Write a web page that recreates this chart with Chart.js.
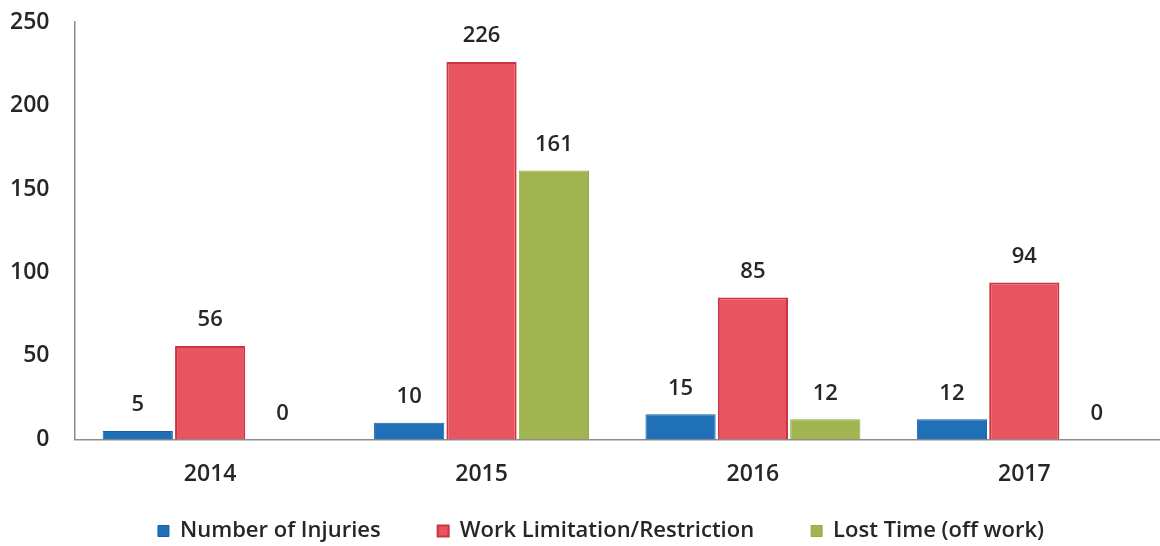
<!DOCTYPE html>
<html>
<head>
<meta charset="utf-8">
<script src="https://cdn.jsdelivr.net/npm/chart.js@4/dist/chart.umd.min.js"></script>
<style>
  html, body { margin: 0; padding: 0; background: #fff; }
  #wrap { width: 1160px; height: 546px; }
</style>
</head>
<body>
<div id="wrap"><canvas id="injuryChart"></canvas></div>
<script>
// ─── data ──────────────────────────
const years = ['2014', '2015', '2016', '2017'];
const injuries = [5, 10, 15, 12];
const restriction = [56, 226, 85, 94];
const lostTime = [0, 161, 12, 0];
const yTicks = [0, 50, 100, 150, 200, 250];

const FONT = 'Open Sans';
const INK = '#262626';

// value labels above each bar
const barValues = {
    id: 'barValues',
    afterDatasetsDraw(chart) {
        const ctx = chart.ctx;
        ctx.save();
        ctx.font = '600 22px ' + FONT;
        ctx.fillStyle = INK;
        ctx.textAlign = 'center';
        ctx.textBaseline = 'middle';
        chart.data.datasets.forEach((ds, i) => {
            chart.getDatasetMeta(i).data.forEach((bar, j) => {
                ctx.fillText(ds.data[j], bar.x, bar.y - 26);
            });
        });
        ctx.restore();
    }
};

// legend: wide gap between items but a tighter gap above them, nudged right
const legendLift = {
    id: 'legendLift',
    afterLayout(chart) {
        const lg = chart.legend;
        if (!lg) return;
        lg.top -= 38;
        lg.left += 16;
        lg.right += 16;
    }
};

const ctx = document.getElementById('injuryChart').getContext('2d');

new Chart(ctx, {
    type: 'bar',
    data: {
        labels: years,
        datasets: [
            {
                label: 'Number of Injuries',
                data: injuries,
                backgroundColor: '#2070b8',
                borderColor: '#1a60a3',
                borderWidth: 1
            },
            {
                label: 'Work Limitation/Restriction',
                data: restriction,
                backgroundColor: '#e8545f',
                borderColor: '#cc3343',
                borderWidth: 2
            },
            {
                label: 'Lost Time (off work)',
                data: lostTime,
                backgroundColor: '#a0b44f',
                borderColor: '#94a843',
                borderWidth: 1
            }
        ]
    },
    options: {
        responsive: true,
        maintainAspectRatio: false,
        animation: false,
        categoryPercentage: 0.8,
        barPercentage: 0.97,
        layout: { padding: { top: 22, right: 0, left: 10, bottom: -44 } },
        plugins: {
            legend: {
                position: 'bottom',
                labels: {
                    boxWidth: 11,
                    boxHeight: 11,
                    padding: 57,
                    font: { size: 22, family: FONT, weight: '600' },
                    color: INK
                }
            },
            tooltip: { enabled: false }
        },
        scales: {
            y: {
                min: 0,
                max: 250,
                afterBuildTicks: axis => { axis.ticks = yTicks.map(v => ({ value: v })); },
                ticks: {
                    padding: 0,
                    font: { size: 23, family: FONT, weight: '600' },
                    color: INK
                },
                grid: { display: false, tickLength: 25 },
                border: { display: true, color: '#8c8c8c', width: 1.5 }
            },
            x: {
                ticks: {
                    padding: 13,
                    font: { size: 23, family: FONT, weight: '600' },
                    color: INK
                },
                grid: { display: false },
                border: { display: true, color: '#8c8c8c', width: 1.5 }
            }
        }
    },
    plugins: [barValues, legendLift]
});
</script>
</body>
</html>
